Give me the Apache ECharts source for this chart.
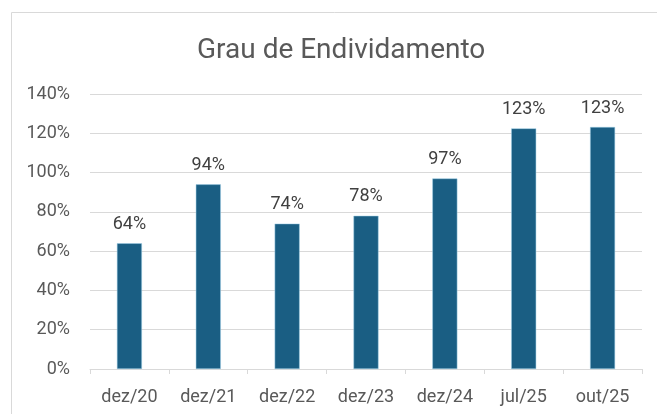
<!DOCTYPE html>
<html>
<head>
<meta charset="utf-8">
<script src="https://cdn.jsdelivr.net/npm/echarts@6/dist/echarts.min.js"></script>
<style>
  html, body { margin: 0; padding: 0; background: #fff; }
  #main { width: 657px; height: 414px; }
</style>
</head>
<body>
<div id="main"></div>
<script>
// dados do gráfico
var categorias = ['dez/20', 'dez/21', 'dez/22', 'dez/23', 'dez/24', 'jul/25', 'out/25'];
var valores = [64, 94, 74, 78, 97, 122.5, 123.2];
var ticksY = [0, 20, 40, 60, 80, 100, 120, 140];

var myChart = echarts.init(document.getElementById('main'));
myChart.setOption({
  animation: false,
  textStyle: { fontFamily: 'Roboto' },
  title: {
    text: 'Grau de Endividamento',
    left: 192,
    top: 32,
    textStyle: { color: '#595959', fontSize: 28, fontWeight: 'normal', fontFamily: 'Roboto' }
  },
  graphic: [{
    type: 'rect',
    shape: { x: 11.5, y: 12.5, width: 700, height: 500 },
    style: { fill: 'none', stroke: '#d9d9d9', lineWidth: 1 },
    silent: true
  }],
  grid: { left: 90, right: 15, top: 94, bottom: 45 },
  xAxis: {
    type: 'category',
    data: categorias,
    axisLine: { lineStyle: { color: '#d9d9d9' } },
    axisTick: { show: true, length: 5, lineStyle: { color: '#d9d9d9' } },
    axisLabel: { color: '#595959', fontSize: 18, margin: 19 }
  },
  yAxis: {
    type: 'value',
    min: ticksY[0],
    max: ticksY[ticksY.length - 1],
    interval: 20,
    axisLine: { show: false },
    axisTick: { show: false },
    splitLine: { lineStyle: { color: '#d9d9d9' } },
    axisLabel: { color: '#595959', fontSize: 18, margin: 20, formatter: '{value}%' }
  },
  series: [{
    type: 'bar',
    data: valores,
    barWidth: 25,
    itemStyle: { color: '#1a5e83', borderColor: '#9fcfe6', borderWidth: 0.5 },
    label: {
      show: true,
      position: 'top',
      distance: 10,
      color: '#404040',
      fontSize: 18,
      formatter: function (p) { return Math.round(p.value) + '%'; }
    }
  }]
});
</script>
</body>
</html>
